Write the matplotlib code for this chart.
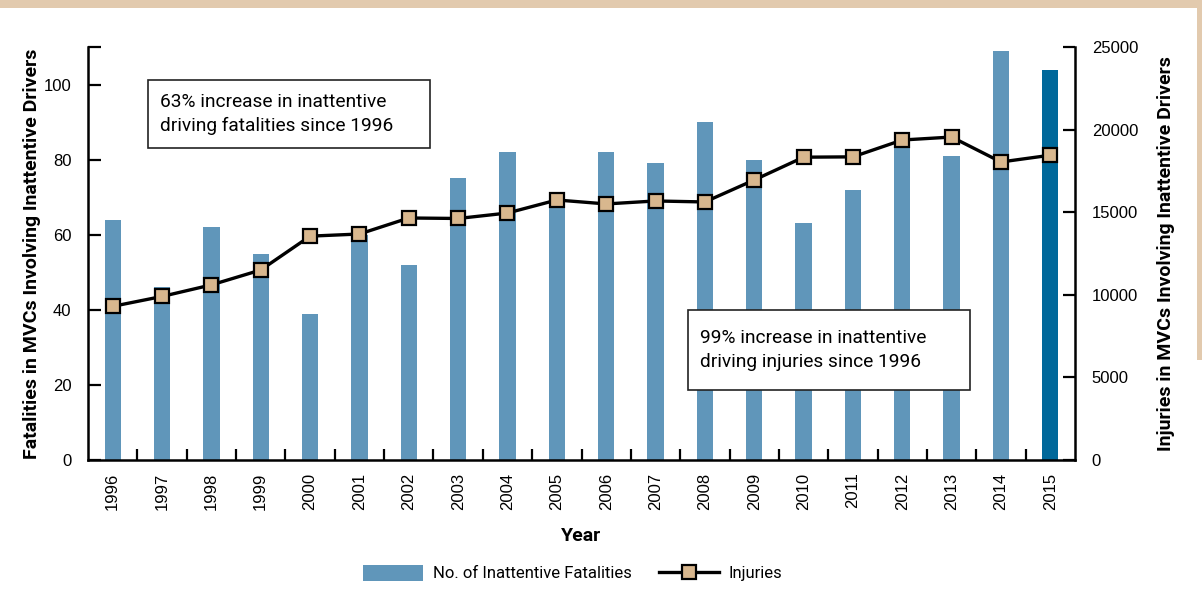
import matplotlib
matplotlib.use("Agg")
import matplotlib.pyplot as plt
from matplotlib.patches import Rectangle
from matplotlib.lines import Line2D
from matplotlib.patches import Patch

years = [str(y) for y in range(1996, 2016)]
fatalities = [64, 46, 62, 55, 39, 60, 52, 75, 82, 71, 82, 79, 90, 80, 63, 72, 85, 81, 109, 104]
injuries = [9300, 9900, 10600, 11500, 13550, 13680, 14650, 14620, 14950, 15740,
            15500, 15680, 15620, 16950, 18330, 18350, 19370, 19550, 18040, 18450]

bar_col = "#6096BA"
last_col = "#00689A"
marker_col = "#D8B78E"
beige = "#E2CAAE"
narrow = ["Liberation Sans Narrow", "Roboto", "DejaVu Sans"]
plt.rcParams["font.family"] = ["Liberation Sans", "DejaVu Sans"]

fig = plt.figure(figsize=(12.02, 5.97), dpi=100)
ax = fig.add_axes([88/1202, 1-460/597, (1075-88)/1202, (460-47)/597])

x = list(range(len(years)))
colors = [bar_col]*(len(years)-1) + [last_col]
ax.bar(x, fatalities, width=0.33, color=colors, zorder=2)
ax.set_xlim(-0.5, len(years)-0.5)
ax.set_ylim(0, 110)
ax.set_yticks([0, 20, 40, 60, 80, 100])
ax.set_yticks([110], minor=True)
ax.set_xticks(x)
ax.set_xticklabels(years, rotation=90, fontsize=12)
ax.set_xticks([i+0.5 for i in x[:-1]], minor=True)
ax.tick_params(axis="x", which="major", length=0, pad=9)
ax.tick_params(axis="x", which="minor", direction="in", length=8, width=1.6)
ax.tick_params(axis="y", which="both", direction="in", length=9, width=1.6, labelsize=12, pad=12)
for s in ["top", "right"]:
    ax.spines[s].set_visible(False)
for s in ["left", "bottom"]:
    ax.spines[s].set_linewidth(1.8)
ax.set_xlabel("Year", fontsize=14, fontweight="bold", family=narrow, labelpad=12)
ax.set_ylabel("Fatalities in MVCs Involving Inattentive Drivers", fontsize=14,
              fontweight="bold", family=narrow, labelpad=2)

ax2 = ax.twinx()
ax2.plot(x, injuries, color="black", lw=2.4, marker="s", markersize=10,
         markerfacecolor=marker_col, markeredgecolor="black", markeredgewidth=1.6, zorder=3)
ax2.set_ylim(0, 25000)
ax2.set_yticks([0, 5000, 10000, 15000, 20000, 25000])
ax2.tick_params(axis="y", direction="in", length=9, width=1.6, labelsize=12, pad=12)
for s in ["top", "left", "bottom"]:
    ax2.spines[s].set_visible(False)
ax2.spines["right"].set_linewidth(1.8)
ax2.set_ylabel("Injuries in MVCs Involving Inattentive Drivers", fontsize=14,
               fontweight="bold", family=narrow, labelpad=14)

# annotation boxes
def note(x0, y0, x1, y1, lines):
    fig.add_artist(Rectangle((x0/1202, 1-y1/597), (x1-x0)/1202, (y1-y0)/597,
                             transform=fig.transFigure, facecolor="white",
                             edgecolor="#222222", lw=1.2, zorder=5))
    fig.text((x0+12)/1202, 1-(y0+y1)/2/597, lines, family=narrow, fontsize=13.8,
             va="center", ha="left", linespacing=1.45, zorder=6)

note(148, 80, 430, 148, "63% increase in inattentive\ndriving fatalities since 1996")
note(688, 310, 970, 390, "99% increase in inattentive\ndriving injuries since 1996")

# legend
handles = [Patch(facecolor=bar_col, edgecolor="none"),
           Line2D([], [], color="black", lw=2.4, marker="s", markersize=10,
                  markerfacecolor=marker_col, markeredgecolor="black", markeredgewidth=1.6)]
fig.legend(handles, ["No. of Inattentive Fatalities", "Injuries"], ncol=2,
           loc="center", bbox_to_anchor=(573/1202, 1-573/597), frameon=False,
           prop={"family": narrow, "size": 12}, handlelength=3.6, handleheight=1.1,
           columnspacing=1.6, handletextpad=0.6)

# page decoration
fig.add_artist(Rectangle((0, 1-8/597), 1, 8/597, transform=fig.transFigure,
                         facecolor=beige, edgecolor="none"))
fig.add_artist(Rectangle((1-5/1202, 1-360/597), 5/1202, 360/597, transform=fig.transFigure,
                         facecolor=beige, edgecolor="none"))

fig.savefig("out.png", dpi=100)
